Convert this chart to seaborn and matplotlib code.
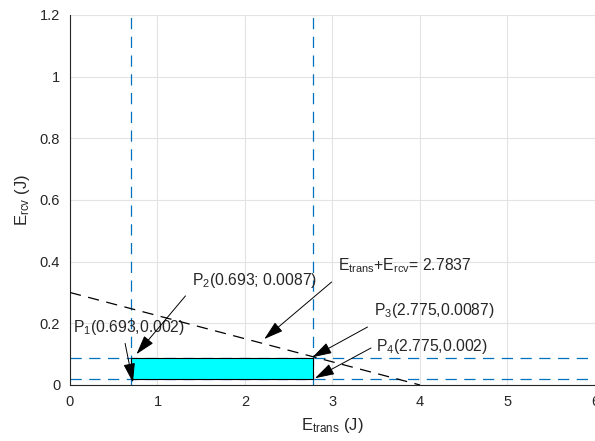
import matplotlib
matplotlib.use("Agg")
import matplotlib.pyplot as plt
import seaborn as sns
import pandas as pd

# data
x_vlines = [0.693, 2.775]
y_hlines = [0.02, 0.087]
budget_x = [0.0, 4.0]
budget_y = [0.3, 0.0]
rect_x = [0.693, 2.775]
rect_y = [0.02, 0.087]
x_ticks = [0, 1, 2, 3, 4, 5, 6]
y_ticks = [0, 0.2, 0.4, 0.6, 0.8, 1.0, 1.2]
y_tick_labels = ["0", "0.2", "0.4", "0.6", "0.8", "1", "1.2"]

sns.set_theme(style="whitegrid")
plt.rcParams['font.family'] = ['Liberation Sans', 'DejaVu Sans']
plt.rcParams['mathtext.fontset'] = 'custom'
plt.rcParams['mathtext.rm'] = 'Liberation Sans'
plt.rcParams['mathtext.it'] = 'Liberation Sans'

fig = plt.figure(figsize=(5.95, 4.41), dpi=100)
ax = fig.add_axes([0.1176, 0.127, 0.8824, 0.839])

blue = '#0072BD'
dash = (9, 6)
lw = 0.9


def dashed(x, y, color, z):
    n = len(ax.lines)
    sns.lineplot(x=x, y=y, ax=ax, color=color, lw=lw, estimator=None, sort=False, zorder=z)
    for l in ax.lines[n:]:
        l.set_dashes(dash)
        l.set_color(color)
        l.set_alpha(1.0)


ax.fill_between(rect_x, rect_y[0], rect_y[1], color='#00FFFF', edgecolor='black', linewidth=0.8, zorder=3)

for xv in x_vlines:
    dashed([xv, xv], [0, 1.2], blue, 2)
for yh in y_hlines:
    dashed([0, 6], [yh, yh], blue, 2)
dashed(budget_x, budget_y, 'black', 4)

ax.set_xlim(0, 6)
ax.set_ylim(0, 1.2)
ax.set_xticks(x_ticks)
ax.set_yticks(y_ticks)
ax.set_yticklabels(y_tick_labels)
ax.tick_params(axis='both', direction='in', length=4, width=0.6, colors='#262626', labelsize=10.5, pad=7)
ax.grid(True, color='#e3e3e3', linewidth=0.8)
for s in ['top', 'right']:
    ax.spines[s].set_visible(False)
for s in ['left', 'bottom']:
    ax.spines[s].set_color('#262626')
    ax.spines[s].set_linewidth(0.8)
ax.set_facecolor('white')

ax.set_xlabel(r'E$_{\mathrm{trans}}$ (J)', fontsize=12, color='#262626', labelpad=5)
ax.set_ylabel(r'E$_{\mathrm{rcv}}$ (J)', fontsize=12, color='#262626', labelpad=6)

ap = dict(arrowstyle='-|>,head_length=1.0,head_width=0.3', color='black', lw=0.7, shrinkA=0, shrinkB=0)
fs = 11.3
ax.annotate('', xy=(0.72, 0.008), xytext=(0.63, 0.135), arrowprops=ap, zorder=6)
ax.text(0.03, 0.185, r'P$_1$(0.693,0.002)', fontsize=fs, va='center', ha='left')
ax.annotate('', xy=(0.76, 0.10), xytext=(1.32, 0.289), arrowprops=ap, zorder=6)
ax.text(1.39, 0.34, r'P$_2$(0.693; 0.0087)', fontsize=fs, va='center', ha='left')
ax.annotate('', xy=(2.22, 0.149), xytext=(2.99, 0.334), arrowprops=ap, zorder=6)
ax.text(3.06, 0.386, r'E$_{\mathrm{trans}}$+E$_{\mathrm{rcv}}$= 2.7837', fontsize=fs, va='center', ha='left')
ax.annotate('', xy=(2.77, 0.09), xytext=(3.40, 0.188), arrowprops=ap, zorder=6)
ax.text(3.48, 0.24, r'P$_3$(2.775,0.0087)', fontsize=fs, va='center', ha='left')
ax.annotate('', xy=(2.80, 0.022), xytext=(3.44, 0.12), arrowprops=ap, zorder=6)
ax.text(3.50, 0.126, r'P$_4$(2.775,0.002)', fontsize=fs, va='center', ha='left')

fig.savefig('out.png', dpi=100)
